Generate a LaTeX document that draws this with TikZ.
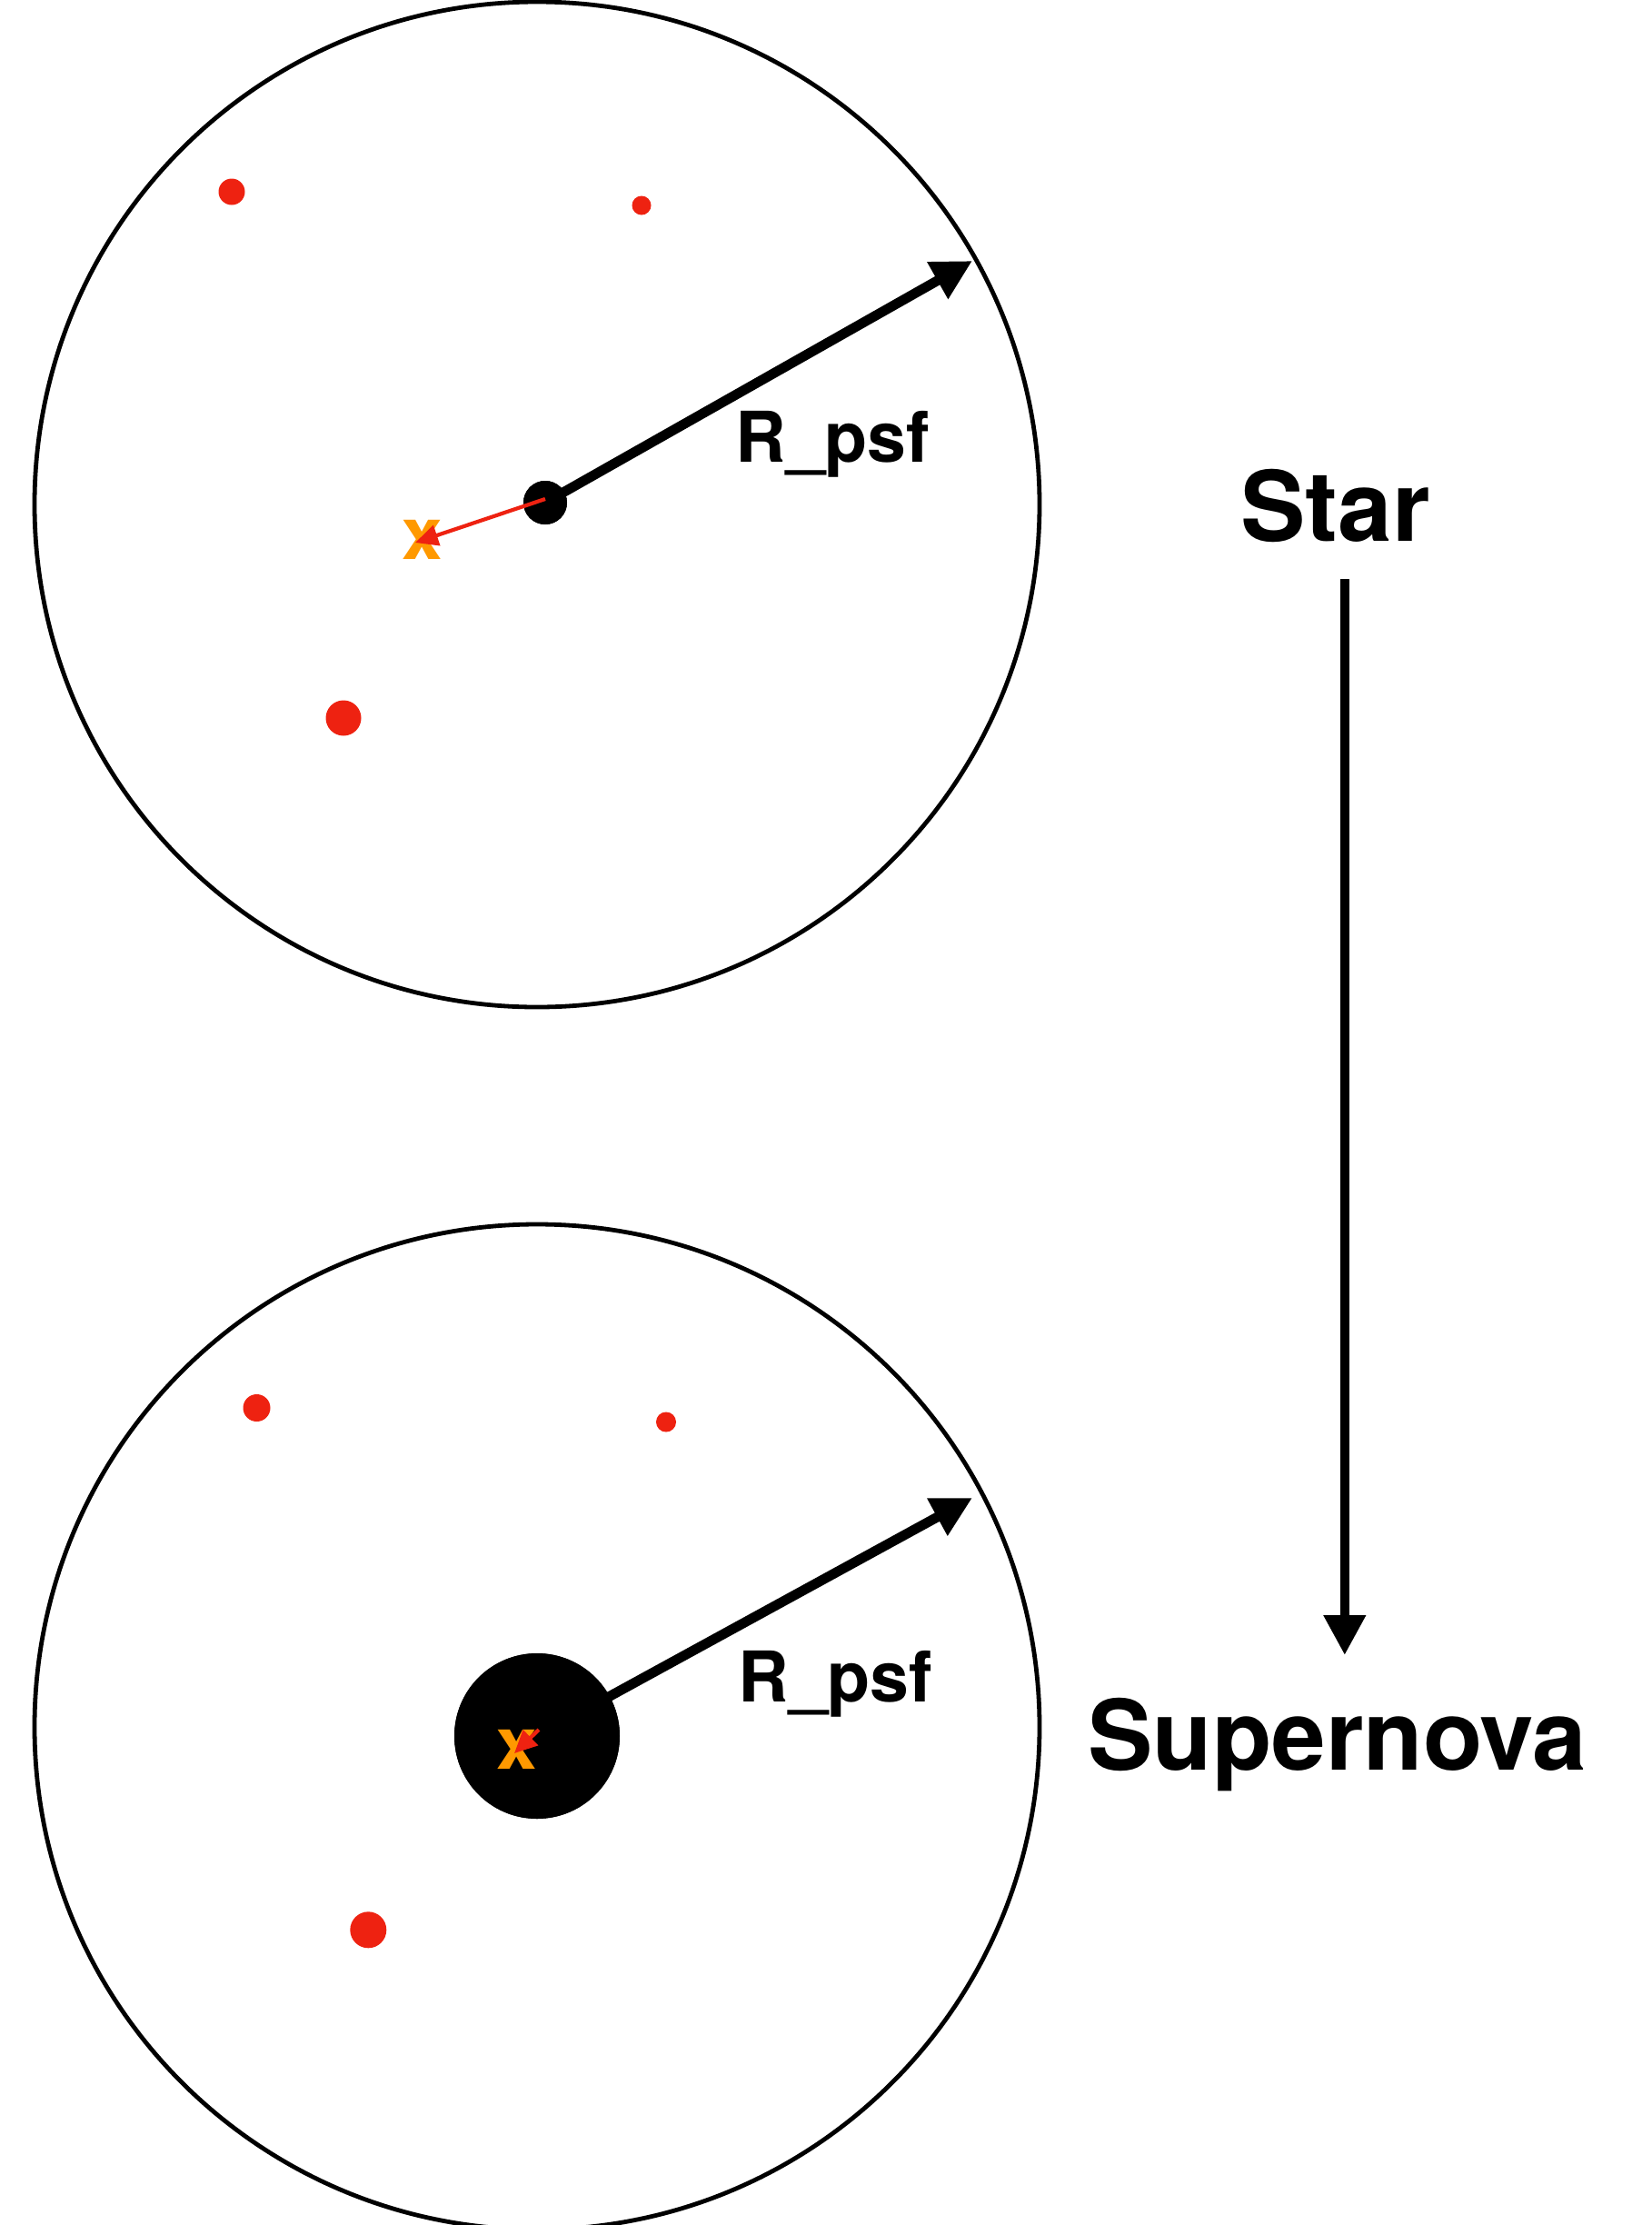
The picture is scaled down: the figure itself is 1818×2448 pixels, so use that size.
\documentclass[tikz,border=0pt]{standalone}
\usepackage{fontspec}
\setmainfont{TeX Gyre Heros}
\usetikzlibrary{arrows.meta}
\definecolor{dotred}{RGB}{238,34,17}
\definecolor{xorange}{RGB}{255,153,0}
\tikzset{
  ring/.style={circle, draw=black, line width=2.4pt, inner sep=0pt, minimum size=553pt},
  reddot/.style={circle, fill=dotred, inner sep=0pt},
  blackdot/.style={circle, fill=black, inner sep=0pt},
  bigarrow/.style={line width=5.4pt, -{Triangle[length=22pt,width=22pt]}},
  redarrow/.style={draw=dotred, line width=2.1pt, -{Triangle[length=12.5pt,width=11.5pt]}, color=dotred},
  smalllbl/.style={inner sep=0pt, anchor=base west, font=\fontsize{38.5}{40}\selectfont\bfseries},
  biglbl/.style={inner sep=0pt, anchor=base west, font=\fontsize{53.5}{56}\selectfont\bfseries},
  xmark/.style={inner sep=0pt, text=xorange, font=\fontsize{40}{42}\selectfont\bfseries}
}
\begin{document}
\begin{tikzpicture}[x=0.5pt,y=-0.5pt]
\useasboundingbox (0,0) rectangle (1818,2448);
\fill[white] (0,0) rectangle (1818,2448);

% ---------- top panel (Star) ----------
\node[ring] (ringA) at (591,555) {};
\node[reddot, minimum size=14.5pt] (rA1) at (255,211) {};
\node[reddot, minimum size=10.5pt] (rA2) at (706,226) {};
\node[reddot, minimum size=19.5pt] (rA3) at (378,790) {};
\coordinate (tipA) at (1070,287);
\node[blackdot, minimum size=24pt] (starA) at (600,553) {};
\draw[bigarrow] (starA.center) -- (tipA);
\node[blackdot, minimum size=24pt] at (starA.center) {};
\node[xmark] (xA) at (464.5,594) {x};
\coordinate (rtipA) at (457,597);
\draw[redarrow] (600,549) -- (rtipA);
\node[smalllbl] (lblA) at (809,508) {R\_psf};

% ---------- bottom panel (Supernova) ----------
\node[ring] (ringB) at (591,1900) {};
\node[reddot, minimum size=15pt] (rB1) at (282.5,1549) {};
\node[reddot, minimum size=11pt] (rB2) at (733,1564.5) {};
\node[reddot, minimum size=20pt] (rB3) at (405.3,2123.3) {};
\coordinate (tipB) at (1070,1648);
\node[blackdot, minimum size=91pt] (snB) at (591,1910) {};
\draw[bigarrow] (snB.center) -- (tipB);
\node[blackdot, minimum size=91pt] at (snB.center) {};
\node[xmark] (xB) at (569,1925) {x};
\coordinate (rtipB) at (566,1929);
\draw[redarrow] (593,1903) -- (rtipB);
\node[smalllbl] (lblB) at (812,1872) {R\_psf};

% ---------- right side ----------
\node[biglbl] (star) at (1365,595) {Star};
\node[biglbl] (sn) at (1197,1947) {Supernova};
\coordinate (va) at (1479.8,637);
\coordinate (vb) at (1479.8,1821);
\draw[line width=5.3pt, -{Triangle[length=22pt,width=22pt]}] (va) -- (vb);
\end{tikzpicture}
\end{document}
